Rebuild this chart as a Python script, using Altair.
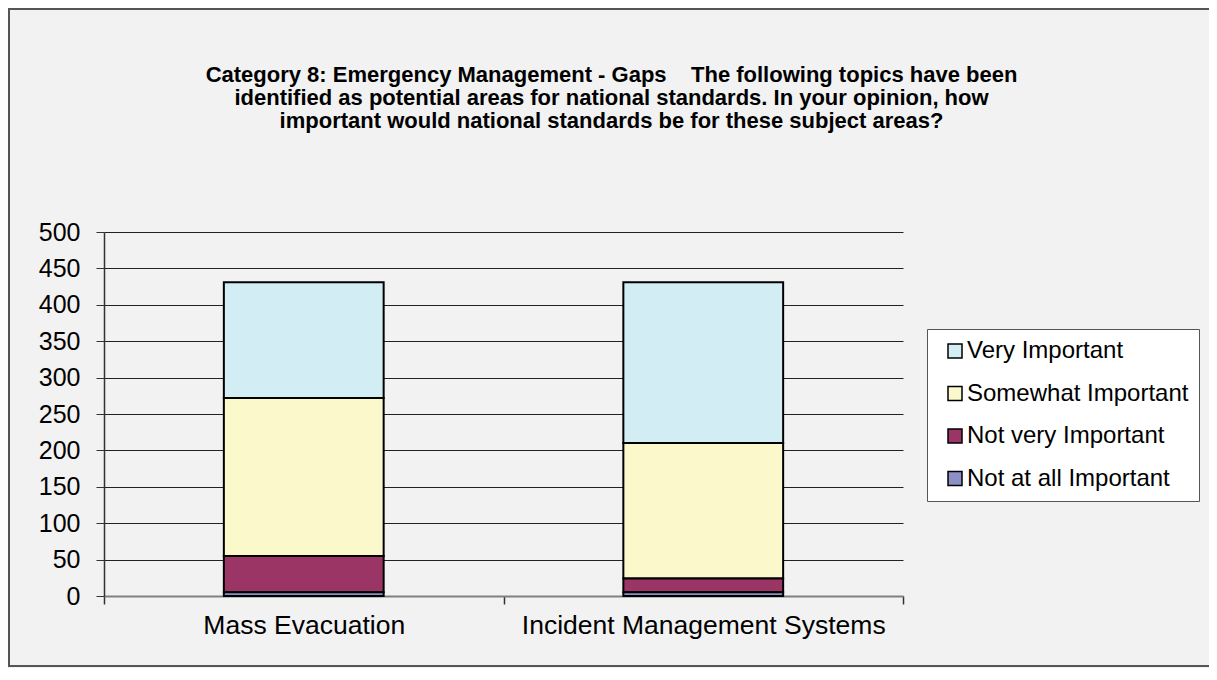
import altair as alt
import pandas as pd

categories = ["Mass Evacuation", "Incident Management Systems"]
levels = ["Very Important", "Somewhat Important", "Not very Important", "Not at all Important"]
very_important = [159, 221]
somewhat_important = [217, 186]
not_very_important = [50, 19]
not_at_all_important = [5, 5]
colors = ["#d3edf4", "#fbf8cc", "#9b3566", "#8c8fc4"]
y_ticks = list(range(0, 501, 50))
title_lines = [
    "Category 8: Emergency Management - Gaps\u00a0\u00a0\u00a0\u00a0The following topics have been",
    "identified as potential areas for national standards. In your opinion, how",
    "important would national standards be for these subject areas?",
]

series = {
    "Very Important": very_important,
    "Somewhat Important": somewhat_important,
    "Not very Important": not_very_important,
    "Not at all Important": not_at_all_important,
}
stack_rank = {"Not at all Important": 0, "Not very Important": 1,
              "Somewhat Important": 2, "Very Important": 3}
rows = []
for lvl, vals in series.items():
    for cat, v in zip(categories, vals):
        rows.append({"category": cat, "level": lvl, "value": v, "rank": stack_rank[lvl]})
df = pd.DataFrame(rows)

FONT = "Liberation Sans"

bars = alt.Chart(df).mark_bar(
    stroke="black", strokeWidth=2, width=alt.RelativeBandSize(0.4)
).encode(
    x=alt.X("category:N", sort=categories,
            scale=alt.Scale(paddingInner=0, paddingOuter=0),
            axis=alt.Axis(title=None, labelAngle=0, tickBand="extent", grid=False,
                          domainColor="#808080", domainWidth=2,
                          tickColor="#333", tickSize=8, tickWidth=1.5,
                          labelFont=FONT, labelFontSize=26.5, labelColor="#000",
                          labelPadding=8, labelLimit=600)),
    y=alt.Y("value:Q", stack="zero",
            scale=alt.Scale(domain=[0, 500], nice=False),
            axis=alt.Axis(title=None, values=y_ticks, grid=True, gridColor="#222",
                          gridWidth=1, domainColor="#333", domainWidth=1.5,
                          tickColor="#333", tickSize=8, tickWidth=1,
                          labelFont=FONT, labelFontSize=25, labelColor="#000",
                          labelPadding=16)),
    color=alt.Color("level:N", sort=levels,
                    scale=alt.Scale(domain=levels, range=colors),
                    legend=alt.Legend(title=None, orient="none", legendX=823, legendY=97,
                                      fillColor="white", strokeColor="#555",
                                      padding=10, symbolOffset=6,
                                      symbolType="square", symbolSize=196,
                                      symbolStrokeColor="black", symbolStrokeWidth=1.5,
                                      labelFont=FONT, labelFontSize=24, labelColor="#000",
                                      labelOffset=0, rowPadding=18.5, labelLimit=600,
                                      labelExpr="datum.label + '\u00a0'")),
    order=alt.Order("rank:Q", sort="ascending"),
)

frame = alt.Chart(alt.Data(values=[{"f": 1}])).mark_rect(
    fill=None, stroke="#555", strokeWidth=2
).encode(
    x=alt.value(-95), x2=alt.value(1130), y=alt.value(-223), y2=alt.value(434)
)

chart = alt.layer(frame, bars).properties(
    width=799, height=364,
    autosize=alt.AutoSizeParams(type="none"),
    padding={"left": 96, "top": 224, "right": 306, "bottom": 72},
    background="#f2f2f2",
    title=alt.TitleParams(
        text=title_lines,
        font=FONT, fontSize=22, fontWeight="bold", color="#000", lineHeight=23,
        anchor="middle", dx=108, offset=0, dy=125),
).configure_view(stroke=None)

chart.save("out.html", embed_options={"renderer": "svg", "actions": False})
